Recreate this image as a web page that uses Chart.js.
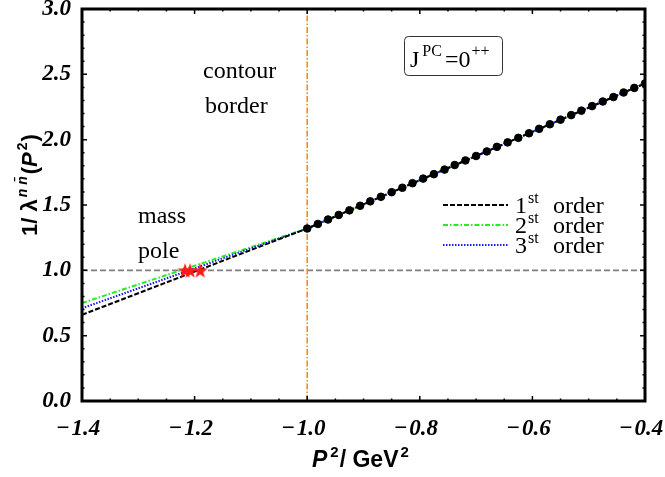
<!DOCTYPE html>
<html>
<head>
<meta charset="utf-8">
<script src="https://cdn.jsdelivr.net/npm/chart.js@4/dist/chart.umd.min.js"></script>
<style>
  html, body { margin: 0; padding: 0; background: #fff; }
  #wrap { width: 665px; height: 477px; }
</style>
</head>
<body>
<div id="wrap"><canvas id="lineChart" width="665" height="477"></canvas></div>
<script>
// P^2 values (GeV^2) and 1/lambda values
const lineX = [-1.4, -1.2, -1.0, -0.4];
const order1 = [0.66, 0.99, 1.32, 2.43];
const order2 = [0.75, 1.035, 1.32, 2.43];
const order3 = [0.71, 1.015, 1.32, 2.43];

const dotX = [-1.0, -0.981, -0.963, -0.944, -0.925, -0.906, -0.888, -0.869, -0.85,
  -0.831, -0.813, -0.794, -0.775, -0.756, -0.738, -0.719, -0.7, -0.681, -0.663,
  -0.644, -0.625, -0.606, -0.588, -0.569, -0.55, -0.531, -0.513, -0.494, -0.475,
  -0.456, -0.438, -0.419, -0.4];
const dotY = [1.32, 1.355, 1.389, 1.424, 1.459, 1.494, 1.528, 1.563, 1.598,
  1.632, 1.667, 1.702, 1.736, 1.771, 1.806, 1.841, 1.875, 1.91, 1.945,
  1.979, 2.014, 2.049, 2.083, 2.118, 2.153, 2.188, 2.222, 2.257, 2.292,
  2.326, 2.361, 2.396, 2.43];

const poleX = [-1.217, -1.208, -1.19];
const poleY = [1.0, 1.0, 1.0];

const borderX = [-1.0, -1.0];
const borderY = [0, 3.0];
const unitX = [-1.4, -0.4];
const unitY = [1.0, 1.0];

const legendLabels = ["1", "2", "3"];

const pts = (xs, ys) => xs.map((x, i) => ({ x: x, y: ys[i] }));

// filled red star for the mass poles
const star = document.createElement("canvas");
star.width = 16; star.height = 16;
(function () {
  const c = star.getContext("2d");
  c.fillStyle = "#ff1a1a";
  c.beginPath();
  for (let i = 0; i < 10; i++) {
    const r = i % 2 ? 3.2 : 8;
    const a = -Math.PI / 2 + i * Math.PI / 5;
    c.lineTo(8 + r * Math.cos(a), 8.8 + r * Math.sin(a));
  }
  c.closePath();
  c.fill();
})();

const serif = "'Liberation Serif', 'Times New Roman', serif";
const sans = "'Liberation Sans', Arial, sans-serif";

const extras = {
  id: "extras",
  afterDraw(chart) {
    const ctx = chart.ctx;
    const xs = chart.scales.x, ys = chart.scales.y;
    const a = chart.chartArea;
    ctx.save();

    // ticks, inward, on all four sides
    ctx.strokeStyle = "#000";
    ctx.lineWidth = 1.5;
    for (let v = -1.4; v <= -0.399; v += 0.05) {
      const px = xs.getPixelForValue(v);
      const major = Math.abs(v * 5 - Math.round(v * 5)) < 1e-6;
      const len = major ? 5 : 2.5;
      ctx.beginPath();
      ctx.moveTo(px, a.bottom); ctx.lineTo(px, a.bottom - len);
      ctx.moveTo(px, a.top); ctx.lineTo(px, a.top + len);
      ctx.stroke();
    }
    for (let v = 0; v <= 3.001; v += 0.1) {
      const py = ys.getPixelForValue(v);
      const major = Math.abs(v * 2 - Math.round(v * 2)) < 1e-6;
      const len = major ? 5 : 2.5;
      ctx.beginPath();
      ctx.moveTo(a.left, py); ctx.lineTo(a.left + len, py);
      ctx.moveTo(a.right, py); ctx.lineTo(a.right - len, py);
      ctx.stroke();
    }

    // frame
    ctx.lineWidth = 3;
    ctx.strokeRect(a.left, a.top, a.right - a.left, a.bottom - a.top);

    ctx.fillStyle = "#000";
    ctx.textBaseline = "alphabetic";
    ctx.textAlign = "left";

    // annotations
    ctx.font = "24px " + serif;
    ctx.fillText("contour", 203, 78);
    ctx.fillText("border", 205, 113);
    ctx.fillText("mass", 138, 223);
    ctx.fillText("pole", 138, 258);

    // J^PC box
    ctx.lineWidth = 1;
    ctx.strokeStyle = "#333";
    ctx.beginPath();
    ctx.roundRect(404.5, 36.5, 98, 39, 4);
    ctx.stroke();
    let x = 410;
    ctx.font = "24px " + serif;
    ctx.fillText("J", x, 67); x += ctx.measureText("J").width + 3;
    ctx.font = "16px " + serif;
    ctx.fillText("PC", x, 56); x += ctx.measureText("PC").width + 3;
    ctx.font = "24px " + serif;
    ctx.fillText("=0", x, 67); x += ctx.measureText("=0").width + 1;
    ctx.font = "16px " + serif;
    ctx.fillText("++", x, 56);

    // legend
    const styles = [
      { color: "#000", dash: [5, 2] },
      { color: "#22ee22", dash: [5, 2, 1.5, 2] },
      { color: "#1a1aff", dash: [1.5, 1.5] }
    ];
    styles.forEach((s, i) => {
      const y = 205 + i * 20;
      ctx.strokeStyle = s.color;
      ctx.lineWidth = 2;
      ctx.setLineDash(s.dash);
      ctx.beginPath();
      ctx.moveTo(443, y); ctx.lineTo(508, y);
      ctx.stroke();
      ctx.setLineDash([]);
      ctx.font = "24px " + serif;
      ctx.fillText(legendLabels[i], 515, y + 8);
      ctx.font = "16px " + serif;
      ctx.fillText("st", 528, y - 2);
      ctx.font = "24px " + serif;
      ctx.fillText("order", 553, y + 8);
    });

    // x axis title
    x = 312;
    let by = 467;
    ctx.font = "italic bold 23px " + sans;
    ctx.fillText("P", x, by); x += ctx.measureText("P").width + 3;
    ctx.font = "bold 15px " + sans;
    ctx.fillText("2", x, by - 10); x += ctx.measureText("2").width + 1;
    ctx.font = "bold 23px " + sans;
    ctx.fillText("/ GeV", x, by); x += ctx.measureText("/ GeV").width + 2;
    ctx.font = "bold 15px " + sans;
    ctx.fillText("2", x, by - 10);

    // y axis title, rotated
    ctx.translate(37, 236);
    ctx.rotate(-Math.PI / 2);
    x = 0;
    ctx.font = "bold 22px " + sans;
    ctx.fillText("1/ \u03bb", x, 0); x += ctx.measureText("1/ \u03bb").width + 2;
    ctx.font = "italic bold 14px " + sans;
    ctx.fillText("n n\u0304", x, -10); x += ctx.measureText("n n\u0304").width + 2;
    ctx.font = "bold 22px " + sans;
    ctx.fillText("(", x, 0); x += ctx.measureText("(").width;
    ctx.font = "italic bold 22px " + sans;
    ctx.fillText("P", x, 0); x += ctx.measureText("P").width + 2;
    ctx.font = "bold 14px " + sans;
    ctx.fillText("2", x, -10); x += ctx.measureText("2").width + 1;
    ctx.font = "bold 22px " + sans;
    ctx.fillText(")", x, 0);

    ctx.restore();
  }
};

const tickFont = { family: serif, size: 23, style: "italic", weight: "bold" };

new Chart(document.getElementById("lineChart"), {
  type: "scatter",
  data: {
    datasets: [
      {
        label: "poles",
        data: pts(poleX, poleY),
        pointStyle: star,
        pointRadius: 8,
        showLine: false,
        order: 0,
      },
      {
        label: "points",
        data: pts(dotX, dotY),
        backgroundColor: "#000",
        borderColor: "#000",
        pointRadius: 3.8,
        showLine: false,
        order: 1,
      },
      {
        label: "1st order",
        data: pts(lineX, order1),
        borderColor: "#000",
        borderWidth: 2,
        borderDash: [5, 2],
        pointRadius: 0,
        showLine: true,
        order: 2,
      },
      {
        label: "3rd order",
        data: pts(lineX, order3),
        borderColor: "#1a1aff",
        borderWidth: 2,
        borderDash: [1.5, 1.5],
        pointRadius: 0,
        showLine: true,
        order: 3,
      },
      {
        label: "2nd order",
        data: pts(lineX, order2),
        borderColor: "#22ee22",
        borderWidth: 2,
        borderDash: [5, 2, 1.5, 2],
        pointRadius: 0,
        showLine: true,
        order: 4,
      },
      {
        label: "contour border",
        data: pts(borderX, borderY),
        borderColor: "#f58a1f",
        borderWidth: 1.6,
        borderDash: [6, 2, 1.5, 2],
        pointRadius: 0,
        showLine: true,
        order: 5,
      },
      {
        label: "unit",
        data: pts(unitX, unitY),
        borderColor: "#808080",
        borderWidth: 1.6,
        borderDash: [6, 3],
        pointRadius: 0,
        showLine: true,
        order: 6,
      },
    ],
  },
  options: {
    responsive: false,
    animation: false,
    events: [],
    layout: { padding: { left: 0, right: 20, top: 9, bottom: 0 } },
    plugins: { legend: { display: false }, tooltip: { enabled: false } },
    scales: {
      x: {
        type: "linear",
        min: -1.4,
        max: -0.4,
        grid: { display: false, drawTicks: false },
        border: { display: false },
        ticks: {
          stepSize: 0.2,
          color: "#000",
          font: tickFont,
          padding: 14,
          labelOffset: -4,
          maxRotation: 0,
          callback: (v) => "\u2212\u200a" + Math.abs(v).toFixed(1),
        },
        afterFit: (s) => { s.height = 76; s.paddingLeft = 0; s.paddingRight = 0; },
      },
      y: {
        min: 0,
        max: 3,
        grid: { display: false, drawTicks: false },
        border: { display: false },
        ticks: {
          stepSize: 0.5,
          color: "#000",
          font: tickFont,
          padding: 11,
          callback: (v) => v.toFixed(1),
        },
        afterFit: (s) => { s.width = 82; s.paddingTop = 0; s.paddingBottom = 0; },
      },
    },
  },
  plugins: [extras],
});
</script>
</body>
</html>
